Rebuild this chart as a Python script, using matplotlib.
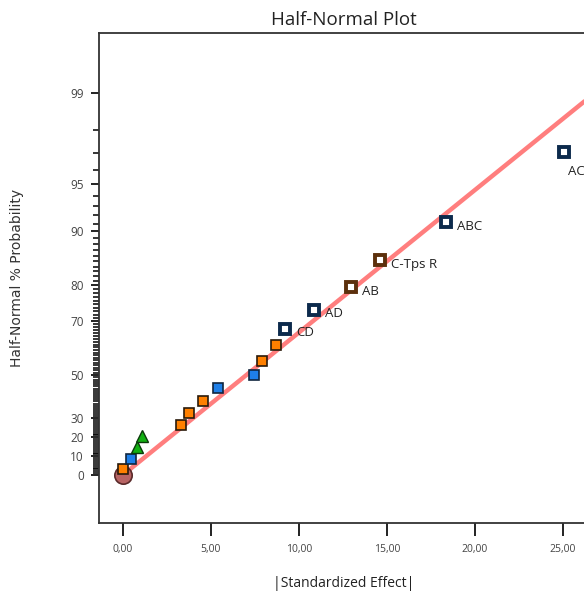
from statistics import NormalDist
import numpy as np
import matplotlib
matplotlib.use('Agg')
import matplotlib.pyplot as plt

# |standardized effect| and half-normal % probability of each term, smallest first
effects = [0.02, 0.45, 0.78, 1.07, 3.30, 3.73, 4.55, 5.42, 7.46, 7.88, 8.73,
           9.20, 10.87, 12.95, 14.60, 18.39, 25.07]
probs = [2.94, 8.82, 14.71, 20.59, 26.47, 32.35, 38.24, 44.12, 50.00, 55.88,
         61.76, 67.65, 73.53, 79.41, 85.29, 91.18, 97.06]
kinds = ['orange', 'blue', 'green', 'green', 'orange', 'orange', 'orange', 'blue',
         'blue', 'orange', 'orange', 'navy', 'navy', 'brown', 'brown', 'navy', 'navy']
labels = ['', '', '', '', '', '', '', '', '', '', '', 'CD', 'AD', 'AB', 'C-Tps R', 'ABC', 'AC']

# error estimate anchor drawn at the origin
origin_x = [0.0]
origin_p = [0.0]

# fitted line through the origin: z-score per unit of effect
fit_slope = 0.096
fit_x = [0.0, 28.0]

y_major = [0, 10, 20, 30, 50, 70, 80, 90, 95, 99]
y_minor = list(range(1, 99))
x_major = [0, 5, 10, 15, 20, 25]

nd = NormalDist()


def hn_forward(p):
  p = np.clip(np.asarray(p, dtype=float), -99.999, 99.999)
  out = np.array([nd.inv_cdf(0.5 + abs(v) / 200.0) for v in p.ravel()]).reshape(p.shape)
  return np.sign(p) * out


def hn_inverse(z):
  z = np.asarray(z, dtype=float)
  out = np.array([200.0 * (nd.cdf(abs(v)) - 0.5) for v in z.ravel()]).reshape(z.shape)
  return np.sign(z) * out


styles = {
  'orange': dict(marker='s', ms=7.5, mfc='#ff8000', mec='#2a1a0a', mew=1.2),
  'blue': dict(marker='s', ms=7.5, mfc='#1e7fe8', mec='#10263f', mew=1.2),
  'green': dict(marker='^', ms=8, mfc='#12b012', mec='#0a3a0a', mew=1.0),
  'navy': dict(marker='s', ms=6.8, mfc='white', mec='#0c2a4c', mew=2.8),
  'brown': dict(marker='s', ms=6.8, mfc='white', mec='#5c300c', mew=2.8),
}

fig = plt.figure(figsize=(5.84, 5.95), dpi=100)
ax = fig.add_axes([99 / 584, 72 / 595, 490 / 584, 490 / 595])
ax.set_yscale('function', functions=(hn_forward, hn_inverse))

fit_p = [200.0 * (nd.cdf(fit_slope * x) - 0.5) for x in fit_x]
ax.plot(fit_x, fit_p, color='#ff7070', lw=3.2, alpha=0.9, solid_capstyle='butt', zorder=2)

ax.plot(origin_x, origin_p, 'o', ms=12.5, mfc='#b86464', mec='#5a2a2a', mew=1.2, zorder=3)

for x, p, k, lab in zip(effects, probs, kinds, labels):
  ax.plot([x], [p], linestyle='none', zorder=4, **styles[k])
  if lab == 'AC':
    ax.annotate(lab, (x, p), xytext=(3, -14), textcoords='offset points',
                fontsize=9.5, family='Open Sans', color='#222222', va='center')
  elif lab:
    ax.annotate(lab, (x, p), xytext=(8, -3), textcoords='offset points',
                fontsize=9.5, family='Open Sans', color='#222222', va='center')

ax.set_xlim(-1.36, 26.5)
ax.set_ylim(hn_inverse(-0.324), hn_inverse(2.98))

ax.set_yticks(y_major)
ax.set_yticks(y_minor, minor=True)
ax.set_yticklabels([str(v) for v in y_major])
ax.set_xticks(x_major)
ax.set_xticklabels([('%.2f' % v if v < 10 else '%.1f0' % v).replace('.', ',') for v in x_major])

ax.tick_params(axis='both', which='major', direction='out', length=6, width=1.4,
               color='#222222', labelcolor='#444444')
ax.tick_params(axis='y', which='minor', direction='out', length=4, width=1.1, color='#000000')
ax.tick_params(axis='x', which='major', length=9, pad=6, labelsize=7.5)
ax.tick_params(axis='y', which='major', pad=5, labelsize=8.5)
for t in ax.get_xticklabels() + ax.get_yticklabels():
  t.set_family('Open Sans')

for side in ['left', 'bottom', 'top', 'right']:
  ax.spines[side].set_color('#333333')
  ax.spines[side].set_linewidth(1.3)

ax.set_title('Half-Normal Plot', fontsize=13.5, family='Open Sans', color='#222222', pad=6)
ax.set_xlabel('|Standardized Effect|', fontsize=10, family='Open Sans', color='#222222', labelpad=15)
ax.set_ylabel('Half-Normal % Probability', fontsize=10, family='DejaVu Sans', color='#333333', labelpad=33)

fig.savefig('out.png', dpi=100)
